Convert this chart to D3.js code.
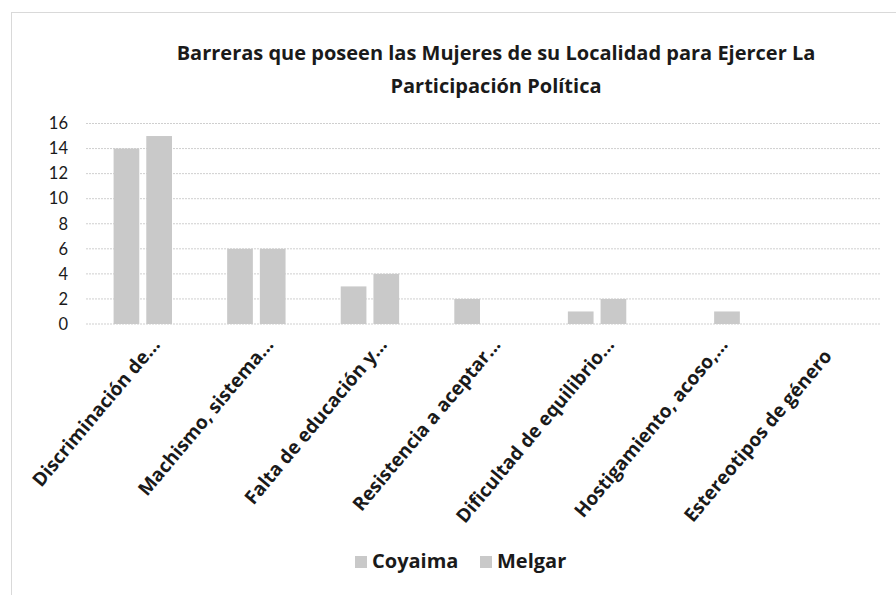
<!DOCTYPE html>
<html>
<head>
<meta charset="UTF-8">
<title>Barreras</title>
<script src="https://d3js.org/d3.v7.min.js"></script>
<style>
  body { margin: 0; background: #fff; }
  text { font-family: "Open Sans", Lato, sans-serif; fill: #1a1a1a; }
</style>
</head>
<body>
<div id="chart"></div>
<script>
var categories = [
  'Discriminación de...',
  'Machismo, sistema...',
  'Falta de educación y...',
  'Resistencia a aceptar...',
  'Dificultad de equilibrio...',
  'Hostigamiento, acoso,...',
  'Estereotipos de género\u00a0\u00a0\u00a0'
];
var seriesNames = ['Coyaima', 'Melgar'];
var coyaima = [14, 6, 3, 2, 1, 0, 0];
var melgar = [15, 6, 4, 0, 2, 1, 0];
var yTicks = [0, 2, 4, 6, 8, 10, 12, 14, 16];
var titleLines = ['Barreras que poseen las Mujeres de su Localidad para Ejercer La', 'Participación Política'];

var width = 896, height = 595;
var plot = { left: 86, right: 881, top: 123.5, bottom: 324 };

var svg = d3.select('#chart').append('svg')
  .attr('width', width)
  .attr('height', height);

// chart frame
svg.append('rect')
  .attr('x', 11.5).attr('y', 12.5)
  .attr('width', width + 20).attr('height', height + 20)
  .attr('fill', '#fff')
  .attr('stroke', '#d9d9d9');

var table = categories.map(function(c, i) {
  return { cat: c, values: [coyaima[i], melgar[i]] };
});

var x0 = d3.scaleBand().domain(categories).range([plot.left, plot.right]);
var groupW = 58.4;
var x1 = d3.scaleBand().domain(seriesNames)
  .range([(x0.bandwidth() - groupW) / 2, (x0.bandwidth() + groupW) / 2])
  .paddingInner(0.214);
var y = d3.scaleLinear().domain([0, 16]).range([plot.bottom, plot.top]);

// gridlines
svg.append('g').selectAll('line')
  .data(yTicks).enter().append('line')
  .attr('x1', plot.left).attr('x2', plot.right)
  .attr('y1', function(d) { return y(d); })
  .attr('y2', function(d) { return y(d); })
  .attr('stroke', '#cfcfcf')
  .attr('stroke-width', 1)
  .attr('stroke-dasharray', '2,1');

// y axis labels
var yAxis = d3.axisLeft(y).tickValues(yTicks).tickSize(0).tickPadding(0);
var yg = svg.append('g').attr('transform', 'translate(68,0)').call(yAxis);
yg.select('.domain').remove();
yg.selectAll('text')
  .style('font-family', 'Lato, sans-serif')
  .style('font-size', '16.5px')
  .attr('fill', '#1a1a1a');

// bars
var groups = svg.append('g').selectAll('g')
  .data(table).enter().append('g')
  .attr('transform', function(d) { return 'translate(' + x0(d.cat) + ',0)'; });

groups.selectAll('rect')
  .data(function(d) { return d.values.map(function(v, i) { return { key: seriesNames[i], value: v }; }); })
  .enter().append('rect')
  .attr('x', function(d) { return x1(d.key); })
  .attr('width', x1.bandwidth())
  .attr('y', function(d) { return y(d.value); })
  .attr('height', function(d) { return y(0) - y(d.value); })
  .attr('fill', '#c9c9c9');

// x labels
svg.append('g').selectAll('text')
  .data(categories).enter().append('text')
  .attr('transform', function(d) {
    return 'translate(' + (x0(d) + x0.bandwidth() / 2 + 13) + ',' + 341 + ') rotate(-50)';
  })
  .attr('text-anchor', 'end')
  .attr('dy', '0.35em')
  .style('font-size', '19px')
  .style('font-weight', 'bold')
  .text(function(d) { return d; });

// title
svg.append('g').selectAll('text')
  .data(titleLines).enter().append('text')
  .attr('x', 496)
  .attr('y', function(d, i) { return 60 + i * 33; })
  .attr('text-anchor', 'middle')
  .style('font-size', '20px')
  .style('font-weight', 'bold')
  .text(function(d) { return d; });

// legend
var legend = svg.append('g').selectAll('g')
  .data(seriesNames).enter().append('g')
  .attr('transform', function(d, i) { return 'translate(' + (355 + i * 125) + ',556)'; });
legend.append('rect')
  .attr('width', 12).attr('height', 12)
  .attr('fill', '#c9c9c9');
legend.append('text')
  .attr('x', 17).attr('y', 12)
  .style('font-size', '20px')
  .style('font-weight', 'bold')
  .text(function(d) { return d; });
</script>
</body>
</html>
